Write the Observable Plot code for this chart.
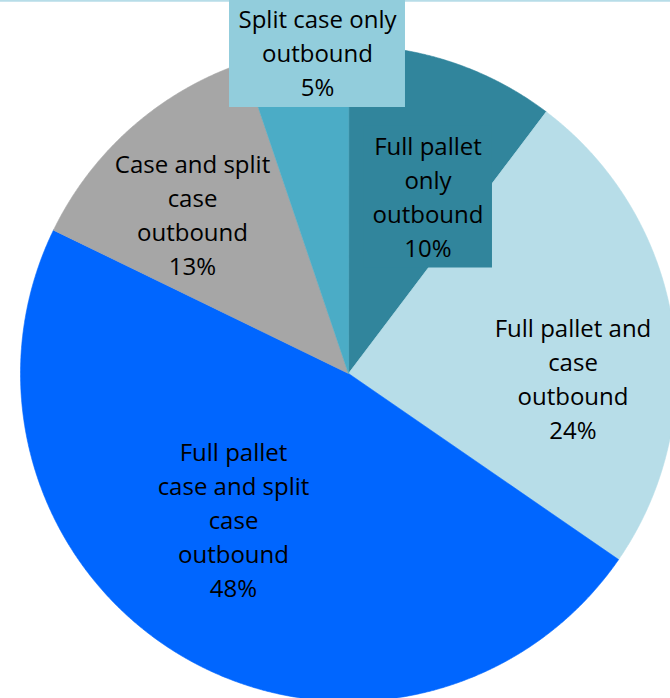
<!DOCTYPE html>
<html>
<head>
<meta charset="utf-8">
<script src="https://cdn.jsdelivr.net/npm/d3@7"></script>
<script src="https://cdn.jsdelivr.net/npm/@observablehq/plot@0.6"></script>
<style>
  html, body { margin: 0; padding: 0; background: #fff; overflow: hidden; }
  #chart svg { display: block; overflow: hidden; }
</style>
</head>
<body>
<div id="chart"></div>
<script>
// ---- data ----
const categories = [
  "Full pallet only outbound",
  "Full pallet and case outbound",
  "Full pallet case and split case outbound",
  "Case and split case outbound",
  "Split case only outbound"
];
const shares = [10.3, 24.3, 47.6, 12.6, 5.2];
const labelLines = [
  "Full pallet\nonly\noutbound",
  "Full pallet and\ncase\noutbound",
  "Full pallet\ncase and split\ncase\noutbound",
  "Case and split\ncase\noutbound",
  "Split case only\noutbound"
];

// ---- styles / layout ----
const sliceColors = ["#31859c", "#b7dde8", "#0066ff", "#a6a6a6", "#4bacc6"];
const labelBoxColors = ["#31859c", null, null, null, "#92cddc"];
const labelOffsetX = [79.5, 224.5, -115, -156, -31];
const labelOffsetY = [-176.5, 6, 147, -158, -320];

const W = 670, H = 698, CX = 348, CY = 373, R = 328;
const FONT = "Open Sans", FS = 24, LH = 34, PADX = 9, PADY = 6;

// ---- slices from d3.pie ----
const arcs = d3.pie().sort(null).value(d => d)(shares);
const slicePts = [];
arcs.forEach((a, i) => {
  const base = {cat: categories[i], color: sliceColors[i]};
  slicePts.push({...base, x: 0, y: 0});
  const n = Math.max(2, Math.ceil((a.endAngle - a.startAngle) / 0.004));
  for (let k = 0; k <= n; k++) {
    const t = a.startAngle + (a.endAngle - a.startAngle) * k / n;
    slicePts.push({...base, x: R * Math.sin(t), y: -R * Math.cos(t)});
  }
});

// ---- labels ----
const ctx = document.createElement("canvas").getContext("2d");
ctx.font = `${FS}px "${FONT}"`;
const labels = categories.map((c, i) => {
  const text = labelLines[i] + "\n" + Math.round(shares[i]) + "%";
  const lines = text.split("\n");
  const w = d3.max(lines, l => ctx.measureText(l).width) + 2 * PADX;
  const h = lines.length * LH + PADY;
  const x = labelOffsetX[i], y = labelOffsetY[i];
  return {cat: c, text, x, y, x1: x - w / 2, x2: x + w / 2, y1: y - h / 2, y2: y + h / 2, box: labelBoxColors[i]};
});
const boxes = labels.filter(d => d.box);

const chart = Plot.plot({
  width: W,
  height: H,
  margin: 0,
  x: {domain: [-CX, W - CX], range: [0, W], axis: null},
  y: {domain: [-CY, H - CY], range: [0, H], axis: null},
  color: {type: "identity"},
  style: {background: "#fff"},
  marks: [
    Plot.line(slicePts, {x: "x", y: "y", z: "cat", fill: "color", stroke: "color", strokeWidth: 0.6, curve: "linear-closed"}),
    Plot.ruleY([-CY], {stroke: "#b7dde8", strokeWidth: 2.6}),
    Plot.rect(boxes, {x1: "x1", x2: "x2", y1: "y1", y2: "y2", fill: "box"}),
    Plot.text(labels, {x: "x", y: "y", dy: -2, text: "text", fontSize: FS, fontFamily: FONT, lineHeight: LH / FS, fill: "#000", textAnchor: "middle"})
  ]
});
document.getElementById("chart").appendChild(chart);
</script>
</body>
</html>
